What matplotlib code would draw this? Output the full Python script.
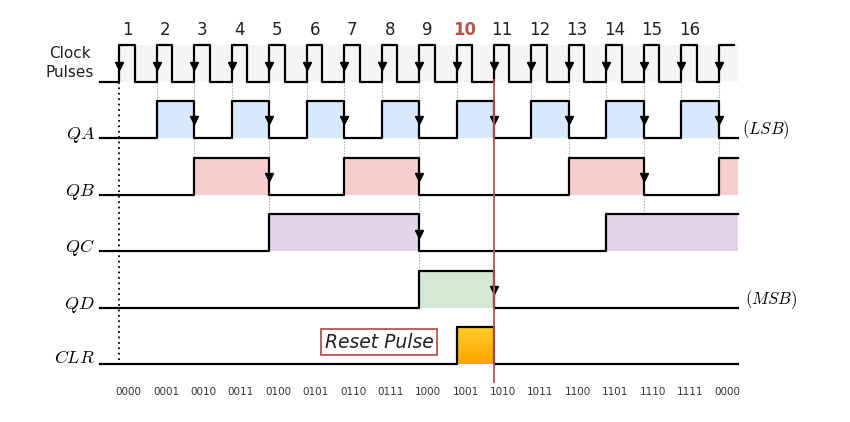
import numpy as np
import matplotlib.pyplot as plt
from matplotlib.colors import LinearSegmentedColormap

plt.rcParams["mathtext.fontset"] = "cm"

# one value per clock period (17 periods, last one cut short)
clock_numbers = [str(i) for i in range(1, 17)]
count_labels = ["0000", "0001", "0010", "0011", "0100", "0101", "0110", "0111", "1000",
                "1001", "1010", "1011", "1100", "1101", "1110", "1111", "0000"]
qa = [0, 1, 0, 1, 0, 1, 0, 1, 0, 1, 0, 1, 0, 1, 0, 1, 0]
qb = [0, 0, 1, 1, 0, 0, 1, 1, 0, 0, 0, 0, 1, 1, 0, 0, 1]
qc = [0, 0, 0, 0, 1, 1, 1, 1, 0, 0, 0, 0, 0, 1, 1, 1, 1]
qd = [0, 0, 0, 0, 0, 0, 0, 0, 1, 1, 0, 0, 0, 0, 0, 0, 0]
clr = [0, 0, 0, 0, 0, 0, 0, 0, 0, 1, 0, 0, 0, 0, 0, 0, 0]

# layout in pixels
x0, period, x_start, x_end = 119.5, 37.45, 100, 738
edges = [x0 + period * k for k in range(17)] + [x_end]

fig = plt.figure(figsize=(8.5, 4.22), dpi=100)
ax = fig.add_axes([0, 0, 1, 1])
ax.set_xlim(0, 850)
ax.set_ylim(422, 0)
ax.axis("off")

LW = 1.6

def wave(bits, base, high, fill, arrow_y=None):
    xs, ys = [x_start], [base]
    prev = 0
    for k, b in enumerate(bits):
        xa, xb = edges[k], edges[k + 1]
        y = high if b else base
        xs += [xa, xa]
        ys += [ys[-1], y]
        if b and fill is not None:
            ax.fill_between([xa, xb], base, high, color=fill, lw=0, zorder=1)
        if prev and not b and arrow_y is not None:
            ax.plot(xa, arrow_y, marker="v", color="black", ms=6, zorder=4)
        prev = b
    xs.append(x_end)
    ys.append(ys[-1])
    ax.plot(xs, ys, color="black", lw=LW, zorder=3)

# clock
clk_base, clk_high = 82, 45
ax.fill_between([edges[0], x_end], clk_base, clk_high, color="#f5f5f5", lw=0, zorder=0)
cx, cy = [x_start, edges[0]], [clk_base, clk_base]
for k in range(17):
    xr = edges[k]
    xf = min(xr + 15.5, x_end)
    cx += [xr, xr, xf, xf]
    cy += [clk_base, clk_high, clk_high, clk_base if k < 16 else clk_high]
    ax.plot(xr, 66, marker="v", color="black", ms=6, zorder=4)
ax.plot(cx, cy, color="black", lw=LW, zorder=3)
for k, t in enumerate(clock_numbers):
    bold = t == "10"
    ax.text(edges[k] + 8, 30, t, ha="center", va="center", fontsize=12,
            color="#b85450" if bold else "#222222", fontweight="bold" if bold else "normal")
ax.text(70, 63, "Clock\nPulses", ha="center", va="center", fontsize=11, color="#222222", linespacing=1.3)

# guide lines from clock edges
for k in range(1, 17):
    ax.plot([edges[k]] * 2, [clk_base, 101], color="#999999", lw=0.8, ls=":", zorder=0)

rows = [("QA", qa, 138, "#dae8fc", 120), ("QB", qb, 195, "#f8cecc", 177),
        ("QC", qc, 251, "#e1d5e7", 234), ("QD", qd, 308, "#d5e8d4", 290)]
for i, (name, bits, base, col, ay) in enumerate(rows):
    wave(bits, base, base - 37, col, ay)
    ax.text(95, base - 3, "$" + name + "$", ha="right", va="center", fontsize=13)
    if i + 1 < len(rows):
        nbase = rows[i + 1][2]
        for k in range(1, 17):
            if bits[k - 1] and not bits[k]:
                ax.plot([edges[k]] * 2, [base, nbase - 37], color="#999999", lw=0.8, ls=":", zorder=0)

# clear pulse with gradient
wave(clr, 364, 327, None)
grad = LinearSegmentedColormap.from_list("g", ["#ffcd28", "#ffa500"])
k = clr.index(1)
ax.imshow(np.linspace(0, 1, 50).reshape(-1, 1), cmap=grad, aspect="auto",
          extent=[edges[k], edges[k + 1], 364, 327], zorder=1)
ax.set_xlim(0, 850)
ax.set_ylim(422, 0)
ax.text(95, 358, "$CLR$", ha="right", va="center", fontsize=13)
ax.text(379, 342, "Reset Pulse", ha="center", va="center", fontsize=13.5, style="italic",
        color="#222222", bbox=dict(boxstyle="square,pad=0.2", fc="white", ec="#b85450", lw=1.3))

ax.text(742, 130, "$(LSB)$", ha="left", va="center", fontsize=12)
ax.text(745, 300, "$(MSB)$", ha="left", va="center", fontsize=12)

# reset line and start line
ax.plot([edges[10]] * 2, [80, 382], color="#b85450", lw=1.3, zorder=5)
ax.plot([edges[0]] * 2, [clk_base, 364], color="black", lw=1.3, ls=(0, (1, 2)), zorder=2)

for k, lab in enumerate(count_labels):
    ax.text(edges[k] + 9, 392, lab, ha="center", va="center", fontsize=7.5, color="#333333")

fig.savefig("out.png", dpi=100)
